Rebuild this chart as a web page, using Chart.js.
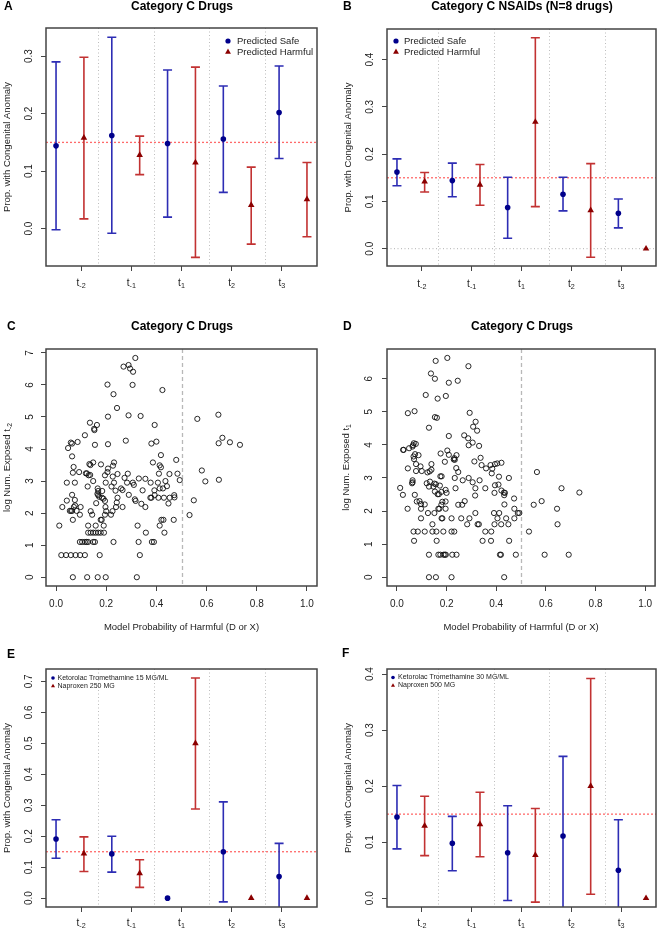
<!DOCTYPE html>
<html>
<head>
<meta charset="utf-8">
<script src="https://cdn.jsdelivr.net/npm/chart.js@4.4.1/dist/chart.umd.min.js"></script>
<style>
  body { margin: 0; background: #fff; }
  #fig { position: relative; width: 660px; height: 929px; }
  canvas { position: absolute; }
</style>
</head>
<body>
<div id="fig">
  <canvas id="pA" width="330" height="300" style="left:0;top:0"></canvas>
  <canvas id="pB" width="330" height="300" style="left:330px;top:0"></canvas>
  <canvas id="pC" width="330" height="340" style="left:0;top:300px"></canvas>
  <canvas id="pD" width="330" height="340" style="left:330px;top:300px"></canvas>
  <canvas id="pE" width="330" height="289" style="left:0;top:640px"></canvas>
  <canvas id="pF" width="330" height="289" style="left:330px;top:640px"></canvas>
</div>
<script>
const FONT = '"Liberation Sans", Arial, Helvetica, sans-serif';

// periods on the x axis of the error bar panels
const periodSubs = ['-2', '-1', '1', '2', '3'];
const periodTicks = [1.9, 3.7, 5.5, 7.3, 9.1];
const safeX = [1, 3, 5, 7, 9];
const harmX = [2, 4, 6, 8, 10];
const splitX = [2.5, 4.5, 6.5, 8.5];

// A: Category C drugs
const aSafe   = [0.144, 0.162, 0.148, 0.156, 0.202];
const aSafeLo = [-0.002, -0.008, 0.020, 0.063, 0.122];
const aSafeHi = [0.290, 0.333, 0.276, 0.248, 0.283];
const aHarm   = [0.158, 0.128, 0.115, 0.041, 0.051];
const aHarmLo = [0.017, 0.094, -0.050, -0.027, -0.014];
const aHarmHi = [0.298, 0.161, 0.281, 0.107, 0.115];

// B: Category C NSAIDs
const bSafe   = [0.162, 0.144, 0.087, 0.115, 0.075];
const bSafeLo = [0.133, 0.110, 0.022, 0.080, 0.044];
const bSafeHi = [0.190, 0.181, 0.151, 0.151, 0.105];
const bHarm   = [0.142, 0.135, 0.268, 0.081, 0.0];
const bHarmLo = [0.120, 0.092, 0.089, -0.018, null];
const bHarmHi = [0.161, 0.178, 0.446, 0.180, null];

// E: Ketorolac 15 MG/ML vs Naproxen 250 MG
const eSafe   = [0.191, 0.143, 0.0, 0.150, 0.070];
const eSafeLo = [0.129, 0.084, null, -0.012, -0.05];
const eSafeHi = [0.253, 0.200, null, 0.311, 0.177];
const eHarm   = [0.144, 0.080, 0.500, 0.0, 0.0];
const eHarmLo = [0.086, 0.035, 0.288, null, null];
const eHarmHi = [0.198, 0.124, 0.711, null, null];

// F: Ketorolac 30 MG/ML vs Naproxen 500 MG
const fSafe   = [0.145, 0.098, 0.081, 0.111, 0.050];
const fSafeLo = [0.088, 0.049, -0.004, -0.03, -0.03];
const fSafeHi = [0.201, 0.146, 0.165, 0.253, 0.140];
const fHarm   = [0.129, 0.132, 0.077, 0.200, 0.0];
const fHarmLo = [0.076, 0.074, -0.007, 0.007, null];
const fHarmHi = [0.182, 0.189, 0.160, 0.392, null];

const baseRate = 0.15;

// C: model probability vs log number exposed at t-2
const cProb = [
  0.316, 0.269, 0.289, 0.295, 0.307, 0.205, 0.305, 0.424, 0.229, 0.243,
  0.207, 0.289, 0.337, 0.563, 0.647, 0.135, 0.163, 0.152, 0.153, 0.393,
  0.115, 0.663, 0.693, 0.733, 0.648, 0.059, 0.064, 0.086, 0.048, 0.155,
  0.207, 0.278, 0.380, 0.400, 0.418, 0.064, 0.479, 0.231, 0.386, 0.148,
  0.133, 0.137, 0.179, 0.227, 0.070, 0.413, 0.418, 0.207, 0.205, 0.092,
  0.067, 0.119, 0.123, 0.130, 0.136, 0.286, 0.245, 0.410, 0.452, 0.484,
  0.581, 0.195, 0.226, 0.330, 0.356, 0.273, 0.493, 0.649, 0.595, 0.043,
  0.075, 0.148, 0.198, 0.231, 0.283, 0.306, 0.377, 0.406, 0.436, 0.310,
  0.126, 0.221, 0.166, 0.168, 0.413, 0.426, 0.442, 0.392, 0.259, 0.237,
  0.265, 0.345, 0.184, 0.064, 0.168, 0.172, 0.165, 0.290, 0.393, 0.471,
  0.472, 0.376, 0.380, 0.408, 0.430, 0.453, 0.245, 0.183, 0.189, 0.314,
  0.075, 0.043, 0.195, 0.242, 0.549, 0.317, 0.160, 0.340, 0.448, 0.025,
  0.071, 0.076, 0.098, 0.197, 0.239, 0.265, 0.356, 0.055, 0.060, 0.064,
  0.082, 0.138, 0.200, 0.225, 0.095, 0.144, 0.195, 0.219, 0.532, 0.067,
  0.178, 0.182, 0.420, 0.428, 0.469, 0.013, 0.128, 0.158, 0.190, 0.325,
  0.413, 0.128, 0.138, 0.148, 0.158, 0.168, 0.178, 0.191, 0.358, 0.432,
  0.095, 0.104, 0.115, 0.122, 0.128, 0.148, 0.155, 0.229, 0.329, 0.382,
  0.390, 0.021, 0.040, 0.059, 0.078, 0.096, 0.115, 0.174, 0.334, 0.067,
  0.124, 0.166, 0.198, 0.322
];
const cLogExp = [
  6.84, 6.57, 6.62, 6.51, 6.41, 6.01, 6.00, 5.84, 5.71, 5.28,
  5.01, 5.05, 5.03, 4.94, 5.07, 4.82, 4.75, 4.63, 4.59, 4.75,
  4.43, 4.35, 4.21, 4.13, 4.18, 4.20, 4.17, 4.22, 4.03, 4.13,
  4.15, 4.26, 4.17, 4.23, 3.81, 3.77, 3.66, 3.58, 3.58, 3.58,
  3.53, 3.50, 3.52, 3.48, 3.44, 3.49, 3.43, 3.39, 3.28, 3.28,
  3.26, 3.24, 3.24, 3.18, 3.19, 3.23, 3.22, 3.23, 3.22, 3.23,
  3.33, 3.18, 3.14, 3.08, 3.07, 3.10, 3.03, 3.04, 2.99, 2.95,
  2.95, 3.00, 2.95, 2.95, 2.95, 2.95, 2.95, 2.95, 3.00, 2.88,
  2.83, 2.83, 2.77, 2.69, 2.77, 2.77, 2.84, 2.71, 2.77, 2.70,
  2.72, 2.71, 2.69, 2.57, 2.56, 2.51, 2.60, 2.57, 2.56, 2.56,
  2.49, 2.48, 2.48, 2.48, 2.48, 2.48, 2.48, 2.48, 2.45, 2.43,
  2.41, 2.39, 2.38, 2.33, 2.40, 2.38, 2.31, 2.29, 2.30, 2.19,
  2.19, 2.24, 2.19, 2.19, 2.19, 2.19, 2.19, 2.07, 2.07, 2.07,
  2.07, 2.06, 2.06, 2.06, 1.95, 1.95, 1.95, 1.95, 1.94, 1.79,
  1.79, 1.79, 1.79, 1.79, 1.79, 1.61, 1.61, 1.61, 1.61, 1.61,
  1.61, 1.39, 1.39, 1.39, 1.39, 1.39, 1.39, 1.39, 1.39, 1.39,
  1.10, 1.10, 1.10, 1.10, 1.10, 1.10, 1.10, 1.10, 1.10, 1.10,
  1.10, 0.69, 0.69, 0.69, 0.69, 0.69, 0.69, 0.69, 0.69, 0.00,
  0.00, 0.00, 0.00, 0.00
];

// D: model probability vs log number exposed at t1
const dProb = [
  0.203, 0.156, 0.288, 0.137, 0.153, 0.209, 0.245, 0.116, 0.197, 0.164,
  0.044, 0.071, 0.293, 0.153, 0.161, 0.129, 0.317, 0.307, 0.323, 0.209,
  0.271, 0.287, 0.305, 0.289, 0.331, 0.068, 0.076, 0.065, 0.063, 0.025,
  0.027, 0.049, 0.203, 0.176, 0.209, 0.240, 0.073, 0.087, 0.067, 0.069,
  0.231, 0.229, 0.233, 0.337, 0.077, 0.193, 0.139, 0.312, 0.341, 0.359,
  0.377, 0.395, 0.404, 0.421, 0.384, 0.382, 0.239, 0.247, 0.044, 0.095,
  0.077, 0.100, 0.123, 0.132, 0.139, 0.564, 0.175, 0.180, 0.233, 0.265,
  0.289, 0.305, 0.333, 0.411, 0.451, 0.063, 0.063, 0.061, 0.120, 0.133,
  0.151, 0.157, 0.173, 0.129, 0.147, 0.013, 0.196, 0.236, 0.200, 0.316,
  0.356, 0.395, 0.409, 0.421, 0.431, 0.435, 0.393, 0.432, 0.315, 0.164,
  0.024, 0.072, 0.179, 0.169, 0.153, 0.273, 0.080, 0.091, 0.097, 0.112,
  0.183, 0.196, 0.263, 0.247, 0.433, 0.472, 0.551, 0.583, 0.663, 0.735,
  0.645, 0.647, 0.532, 0.595, 0.692, 0.043, 0.097, 0.125, 0.097, 0.151,
  0.167, 0.171, 0.179, 0.196, 0.180, 0.183, 0.143, 0.220, 0.259, 0.292,
  0.283, 0.316, 0.325, 0.330, 0.391, 0.412, 0.405, 0.393, 0.420, 0.440,
  0.449, 0.473, 0.473, 0.487, 0.493, 0.067, 0.084, 0.112, 0.143, 0.159,
  0.187, 0.220, 0.231, 0.356, 0.380, 0.069, 0.160, 0.345, 0.379, 0.452,
  0.129, 0.167, 0.175, 0.188, 0.193, 0.197, 0.223, 0.240, 0.415, 0.419,
  0.479, 0.129, 0.157, 0.220, 0.432
];
const dLogExp = [
  6.63, 6.54, 6.38, 6.16, 6.00, 5.88, 5.94, 5.51, 5.48, 5.40,
  4.96, 5.02, 4.97, 4.84, 4.82, 4.52, 4.70, 4.55, 4.43, 4.27,
  4.29, 4.20, 4.07, 3.99, 3.97, 4.05, 4.03, 3.99, 3.95, 3.85,
  3.85, 3.90, 3.83, 3.74, 3.70, 3.69, 3.72, 3.69, 3.65, 3.57,
  3.60, 3.56, 3.55, 3.61, 3.42, 3.49, 3.42, 3.50, 3.39, 3.29,
  3.39, 3.42, 3.44, 3.46, 3.28, 3.14, 3.30, 3.18, 3.29, 3.35,
  3.21, 3.21, 3.17, 3.20, 3.25, 3.18, 3.05, 3.05, 3.00, 2.93,
  3.00, 2.87, 2.93, 3.04, 3.00, 2.93, 2.87, 2.84, 2.84, 2.89,
  2.83, 2.81, 2.77, 2.74, 2.74, 2.70, 2.64, 2.69, 2.55, 2.69,
  2.69, 2.78, 2.80, 2.62, 2.56, 2.55, 2.55, 2.48, 2.47, 2.51,
  2.49, 2.49, 2.58, 2.51, 2.59, 2.30, 2.29, 2.30, 2.21, 2.20,
  2.28, 2.29, 2.19, 2.19, 2.20, 2.38, 2.19, 2.30, 2.69, 2.56,
  2.07, 1.60, 1.38, 0.68, 0.68, 2.07, 2.07, 1.94, 1.78, 1.94,
  2.07, 2.07, 2.19, 2.07, 1.78, 1.78, 1.60, 1.78, 1.78, 1.78,
  1.60, 1.94, 1.60, 1.60, 1.94, 1.94, 1.78, 1.60, 1.60, 1.78,
  1.60, 1.78, 2.07, 1.94, 1.94, 1.38, 1.38, 1.38, 1.38, 1.38,
  1.38, 1.38, 1.38, 1.38, 1.38, 1.10, 1.10, 1.10, 1.10, 1.10,
  0.68, 0.68, 0.68, 0.68, 0.68, 0.68, 0.68, 0.68, 0.68, 0.68,
  0.68, 0.00, 0.00, 0.00, 0.00
];

const probTicks = [0, 0.2, 0.4, 0.6, 0.8, 1.0];

const BLUE_BAR = '#2d2db4';
const RED_BAR = '#c23232';
const BLUE_PT = '#00008b';
const RED_PT = '#8b0000';
const TICK_SIZE = 10;

function setFont(ctx, size, bold) {
  ctx.font = (bold ? 'bold ' : '') + size + 'px ' + FONT;
}

// text with a lowered small part, centred on x
function subText(ctx, base, sub, x, y, size) {
  setFont(ctx, size);
  const bw = ctx.measureText(base).width;
  setFont(ctx, size * 0.72);
  const sw = sub ? ctx.measureText(sub).width : 0;
  const x0 = x - (bw + sw) / 2;
  ctx.textAlign = 'left';
  ctx.textBaseline = 'middle';
  setFont(ctx, size);
  ctx.fillText(base, x0, y);
  if (sub) {
    setFont(ctx, size * 0.72);
    ctx.fillText(sub, x0 + bw, y + size * 0.32);
  }
}

function marker(ctx, style, x, y, r, color) {
  ctx.fillStyle = color;
  ctx.beginPath();
  if (style === 'circle') {
    ctx.arc(x, y, r, 0, Math.PI * 2);
  } else {
    ctx.moveTo(x, y - r);
    ctx.lineTo(x + r * 0.866, y + r * 0.5);
    ctx.lineTo(x - r * 0.866, y + r * 0.5);
    ctx.closePath();
  }
  ctx.fill();
}

function decor(spec) {
  return {
    id: 'decor',
    beforeDatasetsDraw(chart) {
      const { ctx, chartArea: ca, scales: { x, y } } = chart;
      ctx.save();
      ctx.beginPath();
      ctx.rect(ca.left, ca.top, ca.right - ca.left, ca.bottom - ca.top);
      ctx.clip();
      (spec.vLines || []).forEach(l => {
        const px = Math.round(x.getPixelForValue(l.value)) + 0.5;
        ctx.strokeStyle = l.color;
        ctx.lineWidth = l.width;
        ctx.setLineDash(l.dash);
        ctx.beginPath();
        ctx.moveTo(px, ca.top);
        ctx.lineTo(px, ca.bottom);
        ctx.stroke();
      });
      (spec.hLines || []).forEach(l => {
        const py = y.getPixelForValue(l.value);
        ctx.strokeStyle = l.color;
        ctx.lineWidth = l.width;
        ctx.setLineDash(l.dash);
        ctx.beginPath();
        ctx.moveTo(ca.left, py);
        ctx.lineTo(ca.right, py);
        ctx.stroke();
      });
      ctx.setLineDash([]);
      (spec.bars || []).forEach(g => {
        ctx.strokeStyle = g.color;
        ctx.lineWidth = 1.6;
        g.x.forEach((xv, i) => {
          if (g.lo[i] == null) return;
          const px = x.getPixelForValue(xv);
          const y1 = y.getPixelForValue(g.lo[i]);
          const y2 = y.getPixelForValue(g.hi[i]);
          ctx.beginPath();
          ctx.moveTo(px, y1); ctx.lineTo(px, y2);
          ctx.moveTo(px - 4.5, y1); ctx.lineTo(px + 4.5, y1);
          ctx.moveTo(px - 4.5, y2); ctx.lineTo(px + 4.5, y2);
          ctx.stroke();
        });
      });
      ctx.restore();
    },
    afterDraw(chart) {
      const { ctx, chartArea: ca, scales: { x, y } } = chart;
      const t = spec.text;
      ctx.save();
      // box round the plot
      ctx.strokeStyle = '#444';
      ctx.lineWidth = 1.5;
      ctx.strokeRect(ca.left, ca.top, ca.right - ca.left, ca.bottom - ca.top);

      ctx.fillStyle = '#222';
      // x tick labels
      spec.xTicks.forEach((v, i) => {
        const lab = spec.xLabels[i];
        subText(ctx, lab[0], lab[1], x.getPixelForValue(v), t.xTickY, TICK_SIZE);
      });
      // y tick labels, turned like the axis
      spec.yTicks.forEach(v => {
        const py = y.getPixelForValue(v);
        ctx.save();
        ctx.translate(t.yTickX, py);
        ctx.rotate(-Math.PI / 2);
        setFont(ctx, TICK_SIZE);
        ctx.textAlign = 'center';
        ctx.textBaseline = 'middle';
        ctx.fillText(spec.yFmt(v), 0, 0);
        ctx.restore();
      });
      // axis titles
      ctx.save();
      ctx.translate(t.yLabelX, (ca.top + ca.bottom) / 2);
      ctx.rotate(-Math.PI / 2);
      subText(ctx, t.yLabel[0], t.yLabel[1], 0, 0, 9.5);
      ctx.restore();
      if (t.xLabel) {
        subText(ctx, t.xLabel, '', (ca.left + ca.right) / 2, t.xLabelY, 9.5);
      }
      // panel title and letter
      ctx.fillStyle = '#000';
      if (t.title) {
        setFont(ctx, 12, true);
        ctx.textAlign = 'center';
        ctx.textBaseline = 'middle';
        ctx.fillText(t.title, t.titleX, t.titleY);
      }
      setFont(ctx, 12, true);
      ctx.textAlign = 'left';
      ctx.textBaseline = 'middle';
      ctx.fillText(t.letter, t.letterX, t.letterY);
      // legend
      if (spec.legend) {
        const lg = spec.legend;
        lg.items.forEach((it, i) => {
          const ly = lg.y + i * lg.step;
          marker(ctx, it.style, lg.x, ly, it.style === 'circle' ? lg.r : lg.r * 1.3, it.color);
          ctx.fillStyle = '#222';
          setFont(ctx, lg.size);
          ctx.textAlign = 'left';
          ctx.textBaseline = 'middle';
          ctx.fillText(it.label, lg.textX, ly);
        });
      }
      ctx.restore();
    }
  };
}

function makeChart(id, spec) {
  const canvas = document.getElementById(id);
  const W = canvas.width, H = canvas.height;
  const a = spec.area;
  const tickGrid = { drawOnChartArea: false, drawTicks: true, tickLength: 5, color: '#444', lineWidth: 1 };
  return new Chart(canvas, {
    type: 'scatter',
    data: { datasets: spec.datasets },
    options: {
      responsive: false,
      animation: false,
      devicePixelRatio: 1,
      layout: { padding: { left: 0, right: W - a.r, top: a.t, bottom: 0 } },
      plugins: { legend: { display: false }, tooltip: { enabled: false } },
      scales: {
        x: {
          type: 'linear', min: spec.xMin, max: spec.xMax,
          afterBuildTicks: s => { s.ticks = spec.xTicks.map(v => ({ value: v })); },
          afterFit: s => { s.height = H - a.b; },
          ticks: { display: false },
          grid: tickGrid,
          border: { display: false }
        },
        y: {
          type: 'linear', min: spec.yMin, max: spec.yMax,
          afterBuildTicks: s => { s.ticks = spec.yTicks.map(v => ({ value: v })); },
          afterFit: s => { s.width = a.l; },
          ticks: { display: false },
          grid: tickGrid,
          border: { display: false }
        }
      }
    },
    plugins: [decor(spec)]
  });
}

function pts(xs, ys) {
  return xs.map((v, i) => ({ x: v, y: ys[i] }));
}

const periodLabels = periodSubs.map(s => ['t', s]);
const sepLines = splitX.map(v => ({ value: v, color: '#bdbdbd', width: 1, dash: [1, 2.5] }));
const refLine = { value: baseRate, color: '#ff6a6a', width: 1.3, dash: [2, 2] };

function errorSpec(o) {
  return {
    area: o.area,
    xMin: 0.64, xMax: 10.36,
    yMin: o.yMin, yMax: o.yMax,
    xTicks: periodTicks, xLabels: periodLabels,
    yTicks: o.yTicks, yFmt: v => v.toFixed(1),
    vLines: sepLines,
    hLines: o.hLines,
    bars: [
      { x: safeX, lo: o.safeLo, hi: o.safeHi, color: BLUE_BAR },
      { x: harmX, lo: o.harmLo, hi: o.harmHi, color: RED_BAR }
    ],
    datasets: [
      { data: pts(safeX, o.safe), pointStyle: 'circle', pointRadius: 2.8,
        pointBackgroundColor: BLUE_PT, pointBorderWidth: 0 },
      { data: pts(harmX, o.harm), pointStyle: 'triangle', pointRadius: 3.8,
        pointBackgroundColor: RED_PT, pointBorderWidth: 0 }
    ],
    legend: o.legend,
    text: o.text
  };
}

function scatterSpec(o) {
  return {
    area: o.area,
    xMin: -0.04, xMax: 1.04,
    yMin: o.yMin, yMax: o.yMax,
    xTicks: probTicks, xLabels: probTicks.map(v => [v.toFixed(1), '']),
    yTicks: o.yTicks, yFmt: v => String(v),
    vLines: [{ value: 0.5, color: '#b8b8b8', width: 1.3, dash: [4, 3] }],
    hLines: [],
    datasets: [
      { data: pts(o.xs, o.ys), pointStyle: 'circle', pointRadius: 2.6,
        pointBackgroundColor: 'rgba(0,0,0,0)', pointBorderColor: '#111', pointBorderWidth: 0.9 }
    ],
    text: o.text
  };
}

const yLab = ['Prop. with Congenital Anomaly', ''];
const xProbLab = 'Model Probability of Harmful (D or X)';

makeChart('pA', errorSpec({
  area: { l: 46, r: 317, t: 28, b: 266 },
  yMin: -0.065, yMax: 0.349, yTicks: [0, 0.1, 0.2, 0.3],
  hLines: [refLine],
  safe: aSafe, safeLo: aSafeLo, safeHi: aSafeHi,
  harm: aHarm, harmLo: aHarmLo, harmHi: aHarmHi,
  legend: { x: 228, y: 41, step: 11, r: 2.6, textX: 237, size: 9.5,
    items: [{ style: 'circle', color: BLUE_PT, label: 'Predicted Safe' },
            { style: 'triangle', color: RED_PT, label: 'Predicted Harmful' }] },
  text: { letter: 'A', letterX: 4, letterY: 7, title: 'Category C Drugs', titleX: 182, titleY: 7,
    yLabel: yLab, yLabelX: 7, yTickX: 29, xTickY: 283 }
}));

makeChart('pB', errorSpec({
  area: { l: 57, r: 329, t: 29, b: 266 },
  yMin: -0.0366, yMax: 0.4646, yTicks: [0, 0.1, 0.2, 0.3, 0.4],
  hLines: [{ value: 0, color: '#b0b0b0', width: 1, dash: [1, 2.5] }, refLine],
  safe: bSafe, safeLo: bSafeLo, safeHi: bSafeHi,
  harm: bHarm, harmLo: bHarmLo, harmHi: bHarmHi,
  legend: { x: 66, y: 41, step: 11, r: 2.6, textX: 74, size: 9.5,
    items: [{ style: 'circle', color: BLUE_PT, label: 'Predicted Safe' },
            { style: 'triangle', color: RED_PT, label: 'Predicted Harmful' }] },
  text: { letter: 'B', letterX: 13, letterY: 7, title: 'Category C NSAIDs (N=8 drugs)', titleX: 192, titleY: 7,
    yLabel: yLab, yLabelX: 18, yTickX: 40, xTickY: 284 }
}));

makeChart('pC', scatterSpec({
  area: { l: 46, r: 317, t: 49, b: 286 },
  yMin: -0.274, yMax: 7.12, yTicks: [0, 1, 2, 3, 4, 5, 6, 7],
  xs: cProb, ys: cLogExp,
  text: { letter: 'C', letterX: 7, letterY: 27, title: 'Category C Drugs', titleX: 182, titleY: 27,
    yLabel: ['log Num. Exposed t', '-2'], yLabelX: 7, yTickX: 30, xTickY: 304,
    xLabel: xProbLab, xLabelY: 327 }
}));

makeChart('pD', scatterSpec({
  area: { l: 57, r: 329, t: 49, b: 286 },
  yMin: -0.266, yMax: 6.9, yTicks: [0, 1, 2, 3, 4, 5, 6],
  xs: dProb, ys: dLogExp,
  text: { letter: 'D', letterX: 13, letterY: 27, title: 'Category C Drugs', titleX: 192, titleY: 27,
    yLabel: ['log Num. Exposed t', '1'], yLabelX: 16, yTickX: 39, xTickY: 304,
    xLabel: xProbLab, xLabelY: 327 }
}));

makeChart('pE', errorSpec({
  area: { l: 46, r: 317, t: 29, b: 267 },
  yMin: -0.0285, yMax: 0.74, yTicks: [0, 0.1, 0.2, 0.3, 0.4, 0.5, 0.6, 0.7],
  hLines: [refLine],
  safe: eSafe, safeLo: eSafeLo, safeHi: eSafeHi,
  harm: eHarm, harmLo: eHarmLo, harmHi: eHarmHi,
  legend: { x: 53, y: 38, step: 8, r: 1.8, textX: 57.5, size: 7,
    items: [{ style: 'circle', color: BLUE_PT, label: 'Ketorolac Tromethamine 15 MG/ML' },
            { style: 'triangle', color: RED_PT, label: 'Naproxen 250 MG' }] },
  text: { letter: 'E', letterX: 7, letterY: 15,
    yLabel: yLab, yLabelX: 7, yTickX: 29, xTickY: 283 }
}));

makeChart('pF', errorSpec({
  area: { l: 57, r: 329, t: 29, b: 267 },
  yMin: -0.0157, yMax: 0.409, yTicks: [0, 0.1, 0.2, 0.3, 0.4],
  hLines: [refLine],
  safe: fSafe, safeLo: fSafeLo, safeHi: fSafeHi,
  harm: fHarm, harmLo: fHarmLo, harmHi: fHarmHi,
  legend: { x: 63, y: 37.5, step: 8, r: 1.8, textX: 68, size: 7,
    items: [{ style: 'circle', color: BLUE_PT, label: 'Ketorolac Tromethamine 30 MG/ML' },
            { style: 'triangle', color: RED_PT, label: 'Naproxen 500 MG' }] },
  text: { letter: 'F', letterX: 12, letterY: 14,
    yLabel: yLab, yLabelX: 18, yTickX: 40, xTickY: 283 }
}));
</script>
</body>
</html>
